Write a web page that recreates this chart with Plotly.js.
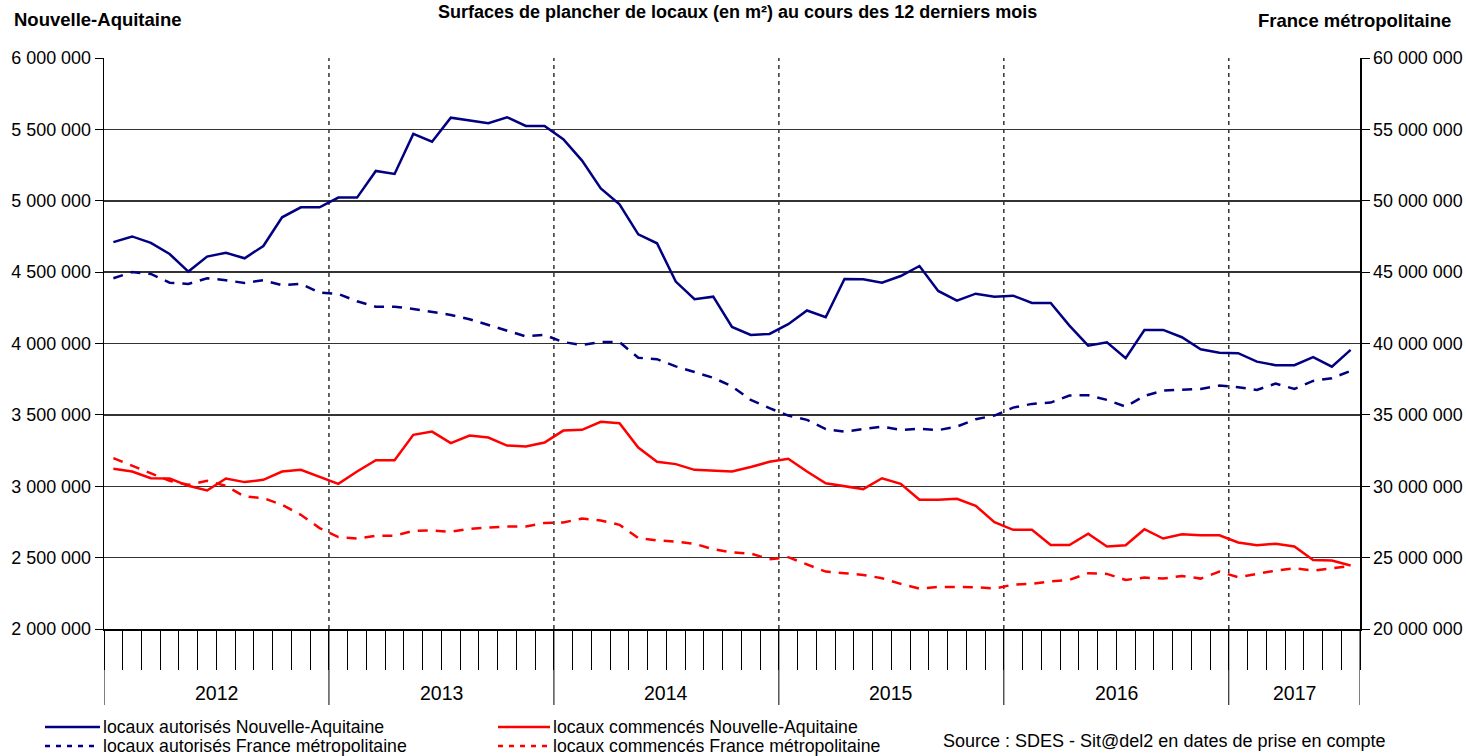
<!DOCTYPE html>
<html>
<head>
<meta charset="utf-8">
<script src="https://cdn.plot.ly/plotly-3.0.1.min.js"></script>
<style>html,body{margin:0;padding:0;background:#fff;}#chart{width:1466px;height:756px;}</style>
</head>
<body>
<div id="chart"></div>
<script>
// ---- Data (monthly, January 2012 to July 2017) ----
const years = ['2012', '2013', '2014', '2015', '2016', '2017'];
const monthsPerYear = [12, 12, 12, 12, 12, 7];

// locaux autorisés Nouvelle-Aquitaine (m², left axis)
const autorisesNA = [
  4710000, 4750000, 4705000, 4627000, 4504000, 4609000, 4636000, 4597000, 4683000, 4884000, 4954000, 4954000,
  5022000, 5022000, 5209000, 5188000, 5468000, 5414000, 5582000, 5561000, 5543000, 5585000, 5524000, 5524000,
  5431000, 5281000, 5087000, 4975000, 4765000, 4702000, 4434000, 4310000, 4328000, 4116000, 4060000, 4067000,
  4135000, 4231000, 4184000, 4452000, 4450000, 4426000, 4473000, 4543000, 4368000, 4300000, 4349000, 4328000,
  4335000, 4284000, 4284000, 4125000, 3985000, 4009000, 3897000, 4095000, 4095000, 4044000, 3960000, 3936000,
  3932000, 3873000, 3848000, 3848000, 3904000, 3838000, 3955000
];
// locaux autorisés France métropolitaine (m², right axis)
const autorisesFR = [
  44570000, 45000000, 44870000, 44260000, 44170000, 44570000, 44430000, 44240000, 44430000, 44080000, 44190000, 43560000,
  43470000, 42960000, 42580000, 42580000, 42420000, 42210000, 42000000, 41700000, 41300000, 40900000, 40500000, 40600000,
  40100000, 39900000, 40100000, 40100000, 39000000, 38900000, 38400000, 38000000, 37600000, 37000000, 36050000, 35470000,
  34950000, 34650000, 34000000, 33830000, 34020000, 34180000, 33950000, 34020000, 33930000, 34180000, 34700000, 34950000,
  35510000, 35770000, 35860000, 36350000, 36380000, 36050000, 35580000, 36330000, 36700000, 36750000, 36820000, 37050000,
  36940000, 36750000, 37190000, 36820000, 37380000, 37570000, 38080000
];
// locaux commencés Nouvelle-Aquitaine (m², left axis)
const commencesNA = [
  3122000, 3103000, 3056000, 3054000, 3003000, 2970000, 3054000, 3029000, 3045000, 3103000, 3115000, 3064000,
  3017000, 3103000, 3183000, 3183000, 3360000, 3383000, 3302000, 3355000, 3341000, 3285000, 3278000, 3306000,
  3390000, 3395000, 3451000, 3442000, 3271000, 3171000, 3155000, 3115000, 3110000, 3103000, 3135000, 3171000,
  3192000, 3103000, 3021000, 3003000, 2980000, 3056000, 3017000, 2905000, 2905000, 2912000, 2863000, 2749000,
  2695000, 2695000, 2588000, 2588000, 2667000, 2578000, 2587000, 2699000, 2634000, 2664000, 2657000, 2657000,
  2606000, 2587000, 2597000, 2578000, 2484000, 2480000, 2445000
];
// locaux commencés France métropolitaine (m², right axis)
const commencesFR = [
  31970000, 31430000, 30920000, 30380000, 30100000, 30380000, 30030000, 29280000, 29170000, 28700000, 28000000, 27070000,
  26440000, 26340000, 26530000, 26530000, 26880000, 26910000, 26810000, 27020000, 27110000, 27180000, 27180000, 27420000,
  27460000, 27740000, 27600000, 27300000, 26370000, 26200000, 26130000, 25970000, 25590000, 25360000, 25290000, 24890000,
  25030000, 24540000, 24020000, 23910000, 23790000, 23560000, 23160000, 22830000, 22950000, 22950000, 22930000, 22830000,
  23110000, 23160000, 23330000, 23440000, 23910000, 23860000, 23440000, 23600000, 23530000, 23720000, 23530000, 24020000,
  23630000, 23860000, 24090000, 24260000, 24090000, 24260000, 24420000
];

const titleText = 'Surfaces de plancher de locaux (en m²) au cours des 12 derniers mois';
const leftAxisTitle = 'Nouvelle-Aquitaine';
const rightAxisTitle = 'France métropolitaine';
const sourceText = 'Source : SDES - Sit@del2 en dates de prise en compte';
const seriesNames = [
  'locaux autorisés Nouvelle-Aquitaine',
  'locaux autorisés France métropolitaine',
  'locaux commencés Nouvelle-Aquitaine',
  'locaux commencés France métropolitaine'
];

// ---- Geometry helpers ----
const W = 1466, H = 756;
const M = {l: 104, r: 106, t: 58, b: 127};
const PW = W - M.l - M.r, PH = H - M.t - M.b;
const px = X => (X - M.l) / PW;
const py = Y => (H - M.b - Y) / PH;

const nMonths = monthsPerYear.reduce((a, b) => a + b, 0);
const xPos = autorisesNA.map((_, i) => i + 0.5);
const boundaries = [0];
monthsPerYear.forEach(n => boundaries.push(boundaries[boundaries.length - 1] + n));
const monthTicks = [];
for (let k = 0; k <= nMonths; k++) monthTicks.push(k);

const FONT = 'Liberation Sans, Arial, sans-serif';
const BLUE = '#000080', RED = '#ff0000';
const DASH = '10px,8px';

const traces = [
  {x: xPos, y: autorisesNA, name: seriesNames[0], type: 'scatter', mode: 'lines', yaxis: 'y',
   line: {color: BLUE, width: 2.5}},
  {x: xPos, y: autorisesFR, name: seriesNames[1], type: 'scatter', mode: 'lines', yaxis: 'y2',
   line: {color: BLUE, width: 2.5, dash: DASH}},
  {x: xPos, y: commencesNA, name: seriesNames[2], type: 'scatter', mode: 'lines', yaxis: 'y',
   line: {color: RED, width: 2.5}},
  {x: xPos, y: commencesFR, name: seriesNames[3], type: 'scatter', mode: 'lines', yaxis: 'y2',
   line: {color: RED, width: 2.5, dash: DASH}}
];

const shapes = [];
// dashed year separators inside the plot
boundaries.slice(1, -1).forEach(b => shapes.push({
  type: 'line', xref: 'x', yref: 'paper', x0: b, x1: b, y0: 0, y1: 1, layer: 'below',
  line: {color: '#333', width: 1.5, dash: '4px,4px'}
}));
// long solid year separators under the axis
boundaries.forEach(b => shapes.push({
  type: 'line', xref: 'x', yref: 'paper', x0: b, x1: b, y0: py(705), y1: 0,
  line: {color: '#000', width: 1}
}));
// legend samples
const legendRows = [727, 746];
const legendCols = [[45, 100], [498, 550]];
const legendStyles = [
  [{color: BLUE, dash: 'solid'}, {color: RED, dash: 'solid'}],
  [{color: BLUE, dash: '5px,6px'}, {color: RED, dash: '5px,6px'}]
];
const legendLabels = [[seriesNames[0], seriesNames[2]], [seriesNames[1], seriesNames[3]]];
const annotations = [];
legendRows.forEach((Y, r) => legendCols.forEach((c, ci) => {
  shapes.push({type: 'line', xref: 'paper', yref: 'paper', x0: px(c[0]), x1: px(c[1]), y0: py(Y), y1: py(Y),
    line: {color: legendStyles[r][ci].color, width: 2.5, dash: legendStyles[r][ci].dash}});
  annotations.push({xref: 'paper', yref: 'paper', x: px(c[1] + 1), y: py(Y), xanchor: 'left', yanchor: 'middle',
    text: legendLabels[r][ci], showarrow: false, font: {family: FONT, size: 17.7, color: '#000'}});
}));

// year labels
years.forEach((yr, k) => annotations.push({
  xref: 'x', yref: 'paper', x: (boundaries[k] + boundaries[k + 1]) / 2, y: py(693), xanchor: 'center', yanchor: 'middle',
  text: yr, showarrow: false, font: {family: FONT, size: 19.5, color: '#000'}
}));
annotations.push({xref: 'paper', yref: 'paper', x: px(1164), y: py(741), xanchor: 'center', yanchor: 'middle',
  text: sourceText, showarrow: false, font: {family: FONT, size: 18, color: '#000'}});
annotations.push({xref: 'paper', yref: 'paper', x: px(12), y: py(19), xanchor: 'left', yanchor: 'middle',
  text: '<b>' + leftAxisTitle + '</b>', showarrow: false, font: {family: FONT, size: 18.5, color: '#000'}});
annotations.push({xref: 'paper', yref: 'paper', x: px(1453), y: py(21), xanchor: 'right', yanchor: 'middle',
  text: '<b>' + rightAxisTitle + '</b>', showarrow: false, font: {family: FONT, size: 18.5, color: '#000'}});
annotations.push({xref: 'paper', yref: 'paper', x: px(737.5), y: py(0), xanchor: 'center', yanchor: 'top',
  text: '<b>' + titleText + '</b>', showarrow: false, font: {family: FONT, size: 18, color: '#000'}});

const layout = {
  width: W, height: H,
  margin: M,
  paper_bgcolor: '#fff', plot_bgcolor: '#fff',
  separators: ', ',
  showlegend: false,
  xaxis: {
    range: [0, nMonths], tickmode: 'array', tickvals: monthTicks, showticklabels: false,
    ticks: 'outside', ticklen: 39, tickwidth: 1, tickcolor: '#000',
    showgrid: false, zeroline: false, showline: true, linecolor: '#000', linewidth: 1.5, fixedrange: true
  },
  yaxis: {
    range: [2000000, 6000000], tick0: 2000000, dtick: 500000, tickformat: ',d',
    ticks: 'outside', ticklen: 8, tickwidth: 1, tickcolor: '#000',
    showgrid: true, gridcolor: '#333', gridwidth: 1.5,
    zeroline: false, showline: true, linecolor: '#000', linewidth: 1.5,
    tickfont: {family: FONT, size: 17.9, color: '#000'}, fixedrange: true
  },
  yaxis2: {
    overlaying: 'y', side: 'right', anchor: 'x',
    range: [20000000, 60000000], tick0: 20000000, dtick: 5000000, tickformat: ',d',
    ticks: 'outside', ticklen: 8, tickwidth: 1, tickcolor: '#000',
    showgrid: false, zeroline: false, showline: true, linecolor: '#000', linewidth: 1.5,
    tickfont: {family: FONT, size: 17.9, color: '#000'}, fixedrange: true
  },
  shapes: shapes,
  annotations: annotations
};

Plotly.newPlot('chart', traces, layout, {displayModeBar: false, staticPlot: true});
</script>
</body>
</html>
